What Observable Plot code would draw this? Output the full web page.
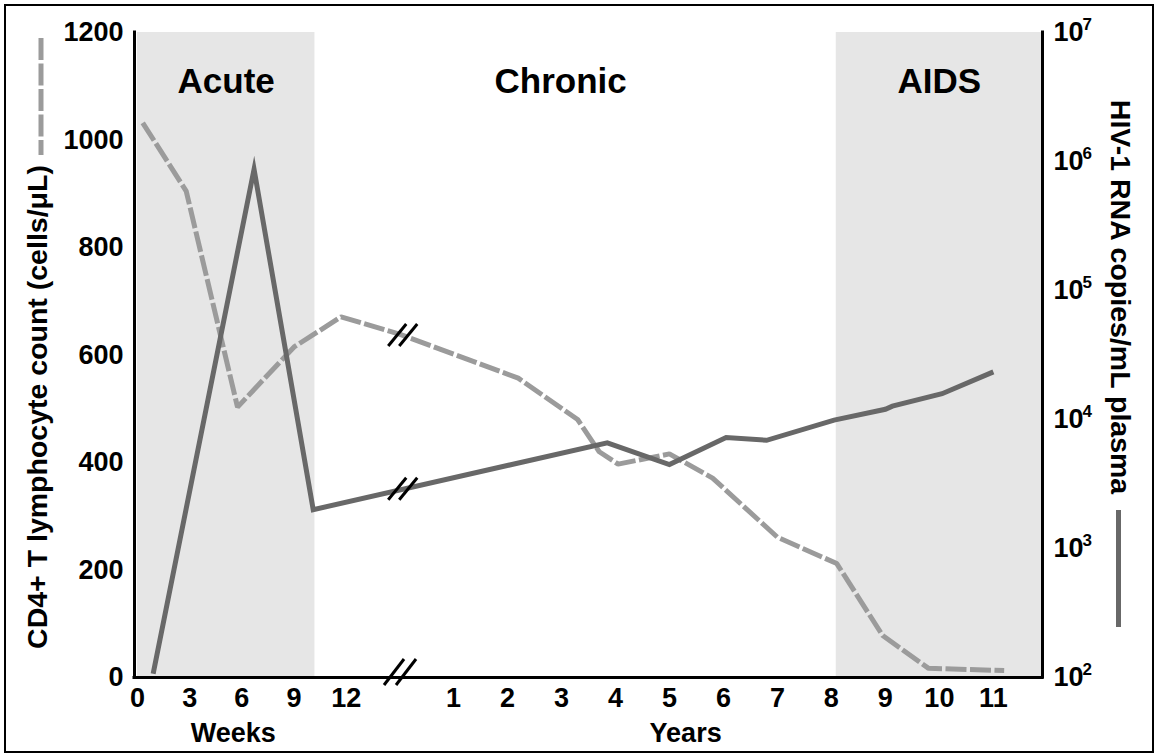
<!DOCTYPE html>
<html><head><meta charset="utf-8">
<script src="https://cdn.jsdelivr.net/npm/d3@7"></script>
<script src="https://cdn.jsdelivr.net/npm/@observablehq/plot@0.6"></script>
<style>
html,body{margin:0;padding:0;background:#fff;}
#wrap{position:relative;width:1158px;height:755px;overflow:hidden;}
#border{position:absolute;left:4px;top:4px;width:1146px;height:745px;border:2px solid #000;pointer-events:none;}
svg{display:block;}
</style></head>
<body><div id="wrap"><div id="chart"></div><div id="border"></div></div>
<script>
// ---- data ----
const weekTicks = [0, 3, 6, 9, 12];
const yearTicks = [1, 2, 3, 4, 5, 6, 7, 8, 9, 10, 11];
const cd4Ticks = [0, 200, 400, 600, 800, 1000, 1200];
const rnaExponents = [2, 3, 4, 5, 6, 7];

// CD4+ T lymphocyte count (cells/µL)
const cd4WeekTimes = [0.3, 2.8, 5.75, 9, 11.7];
const cd4WeekCounts = [1032, 905, 503, 615, 671];
const cd4YearTimes = [0, 2.2, 3.3, 3.7, 4.05, 5.0, 5.8, 7.0, 8.1, 8.95, 9.8, 11.2];
const cd4YearCounts = [639, 557, 480, 420, 397, 416, 371, 261, 212, 78, 17, 13];

// HIV-1 RNA copies/mL plasma
const rnaWeekTimes = [0.9, 6.7, 10.1];
const rnaWeekCopies = [107, 870000, 2000];
const rnaYearTimes = [3.85, 5.0, 6.05, 6.8, 8.05, 9.0, 9.13, 10.05, 11.0];
const rnaYearCopies = [6600, 4470, 7240, 6900, 9900, 12000, 12700, 15850, 23400];

// phases
const phaseNames = ["Acute", "Chronic", "AIDS"];
const phaseStart = [["week", 0], ["week", 10.2], ["year", 8.09]];
const phaseEnd = [["week", 10.2], ["year", 8.09], ["year", 11.91]];
const phaseShaded = [true, false, true];

const axisTitles = ["Weeks", "Years"];
const axisTitleAt = [["week", 5.5], ["year", 5.3]];

// ---- composite time axis (weeks, break, years) ----
const BREAK_POS = 15.057;   // year 0 position in week units
const YEAR_UNIT = 3.1034;   // one year in week units
const pos = (unit, t) => unit === "week" ? t : BREAK_POS + t * YEAR_UNIT;
const X_MIN = -0.172, X_MAX = pos("year", 11.91);
const rnaToY = v => (Math.log10(v) - 2) / 5 * 1200;

const cd4Rows = [
  ...cd4WeekTimes.map((t, i) => ({x: pos("week", t), y: cd4WeekCounts[i]})),
  ...cd4YearTimes.map((t, i) => ({x: pos("year", t), y: cd4YearCounts[i]}))
];
const rnaRows = [
  ...rnaWeekTimes.map((t, i) => ({x: pos("week", t), y: rnaToY(rnaWeekCopies[i])})),
  ...rnaYearTimes.map((t, i) => ({x: pos("year", t), y: rnaToY(rnaYearCopies[i])}))
];
const bands = phaseNames.map((name, i) => ({
  name, x1: pos(...phaseStart[i]), x2: pos(...phaseEnd[i]), shaded: phaseShaded[i]
}));

const FONT = "'Liberation Sans', Arial, Helvetica, sans-serif";
const CD4_COLOR = "#9b9b9b", RNA_COLOR = "#686868";

const chart = Plot.plot({
  width: 1158, height: 755,
  marginLeft: 134, marginRight: 116, marginTop: 32, marginBottom: 78,
  x: {type: "linear", domain: [X_MIN, X_MAX], axis: null},
  y: {domain: [0, 1200], axis: null},
  style: {fontFamily: FONT, fontWeight: "bold", color: "#000", background: "#fff", overflow: "visible"},
  marks: [
    Plot.rect(bands.filter(b => b.shaded), {x1: "x1", x2: "x2", y1: 0, y2: 1200, fill: "#e6e6e6"}),
    Plot.text(bands.filter(b => b.name !== "Chronic"), {x: d => (d.x1 + d.x2) / 2, text: "name", frameAnchor: "top", lineAnchor: "middle", dy: 49, fontSize: 35, fontWeight: "bold", fill: "#000"}),
    Plot.text(bands.filter(b => b.name === "Chronic"), {x: d => (d.x1 + d.x2) / 2, text: "name", frameAnchor: "top", lineAnchor: "middle", dy: 49, dx: -15, fontSize: 35, fontWeight: "bold", fill: "#000"}),
    Plot.line(cd4Rows, {x: "x", y: "y", stroke: CD4_COLOR, strokeWidth: 5, strokeDasharray: "21,3.5", strokeLinecap: "butt", strokeLinejoin: "miter"}),
    Plot.line(rnaRows, {x: "x", y: "y", stroke: RNA_COLOR, strokeWidth: 5, strokeLinecap: "butt", strokeLinejoin: "miter", strokeMiterlimit: 12}),
    Plot.ruleY([0], {stroke: "#000", strokeWidth: 3, strokeLinecap: "square"}),
    Plot.ruleX([X_MIN, X_MAX], {stroke: "#000", strokeWidth: 3, strokeLinecap: "square"}),
    Plot.text(cd4Ticks, {y: d => d, text: d => String(d), frameAnchor: "left", lineAnchor: "middle", dx: -11, textAnchor: "end", fontSize: 27, fill: "#000"}),
    Plot.text(rnaExponents, {y: e => (e - 2) / 5 * 1200, text: () => "10", frameAnchor: "right", lineAnchor: "middle", dx: 11, textAnchor: "start", fontSize: 27, fill: "#000"}),
    Plot.text(rnaExponents, {y: e => (e - 2) / 5 * 1200, text: e => String(e), frameAnchor: "right", lineAnchor: "middle", dx: 40, dy: -8, textAnchor: "start", fontSize: 17, fill: "#000"}),
    Plot.text(weekTicks, {x: d => pos("week", d), text: d => String(d), frameAnchor: "bottom", lineAnchor: "middle", dy: 21, fontSize: 27, fill: "#000"}),
    Plot.text(yearTicks, {x: d => pos("year", d), text: d => String(d), frameAnchor: "bottom", lineAnchor: "middle", dy: 21, fontSize: 27, fill: "#000"}),
    Plot.text(axisTitles, {x: (d, i) => pos(...axisTitleAt[i]), text: d => d, frameAnchor: "bottom", lineAnchor: "middle", dy: 56, fontSize: 27, fill: "#000"})
  ]
});
document.getElementById("chart").appendChild(chart);

// ---- annotations: axis titles, legend swatches, axis breaks ----
const svg = d3.select(chart);
const xs = chart.scale("x"), ys = chart.scale("y");
const sx = xs && xs.apply ? v => xs.apply(v) : d3.scaleLinear([X_MIN, X_MAX], [134, 1042]);
const sy = ys && ys.apply ? v => ys.apply(v) : d3.scaleLinear([0, 1200], [677, 32]);

svg.append("text")
  .attr("transform", "translate(47,407) rotate(-90)")
  .attr("text-anchor", "middle").attr("font-size", 28.5).attr("font-weight", "bold")
  .attr("font-family", FONT).attr("fill", "#000")
  .text("CD4+ T lymphocyte count (cells/μL)");
svg.append("text")
  .attr("transform", "translate(1111,297) rotate(90)")
  .attr("text-anchor", "middle").attr("font-size", 28.5).attr("font-weight", "bold")
  .attr("font-family", FONT).attr("fill", "#000")
  .text("HIV-1 RNA copies/mL plasma");

svg.append("line").attr("x1", 41).attr("x2", 41).attr("y1", 38).attr("y2", 155)
  .attr("stroke", CD4_COLOR).attr("stroke-width", 5).attr("stroke-dasharray", "22,3.5");
svg.append("line").attr("x1", 1118.5).attr("x2", 1118.5).attr("y1", 510).attr("y2", 627)
  .attr("stroke", RNA_COLOR).attr("stroke-width", 5);

function interpAt(rows, px) {
  for (let i = 0; i < rows.length - 1; i++) {
    const a = rows[i], b = rows[i + 1];
    if (px >= a.x && px <= b.x) return a.y + (b.y - a.y) * (px - a.x) / (b.x - a.x);
  }
  return rows[rows.length - 1].y;
}
function breakMark(cx, cy, hw, hh, off) {
  const g = svg.append("g");
  for (const o of [-off, off]) {
    g.append("line").attr("x1", cx + o - hw).attr("y1", cy + hh).attr("x2", cx + o + hw).attr("y2", cy - hh)
      .attr("stroke", "#000").attr("stroke-width", 3);
  }
}
const breakPos = pos("year", 0.07);
breakMark(sx(breakPos), sy(interpAt(cd4Rows, breakPos)), 9, 11, 5.5);
breakMark(sx(breakPos), sy(interpAt(rnaRows, breakPos)), 9, 11, 5.5);
breakMark(sx(pos("year", 0.02)), sy(0) - 5, 10, 13, 6);
</script>
</body></html>
